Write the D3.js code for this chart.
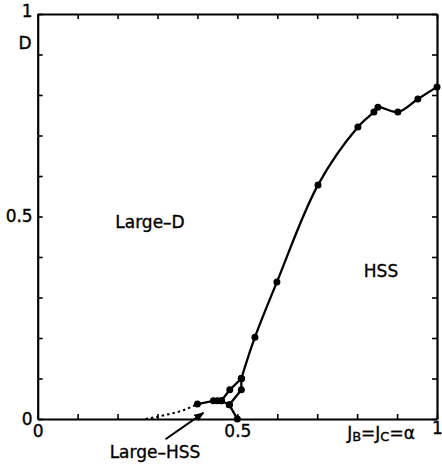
<!DOCTYPE html>
<html><head><meta charset="utf-8">
<script src="https://cdn.jsdelivr.net/npm/d3@7"></script>
<style>
html,body{margin:0;padding:0;background:#fff;}
svg{display:block;}
text{font-family:"DejaVu Sans","Liberation Sans",Arial,sans-serif;fill:#000;stroke:#000;stroke-width:0.35px;}
</style></head>
<body>
<svg id="c" width="442" height="464"></svg>
<script>
// ---- data ----
const mainX = [0.51, 0.544, 0.599, 0.702, 0.802, 0.842, 0.852, 0.902, 0.952, 1.0];
const mainY = [0.10, 0.202, 0.338, 0.578, 0.721, 0.758, 0.770, 0.758, 0.790, 0.820];
const upperX = [0.40, 0.44, 0.45, 0.46, 0.481, 0.51];
const upperY = [0.037, 0.045, 0.045, 0.045, 0.072, 0.10];
const lowerX = [0.46, 0.48, 0.51, 0.51];
const lowerY = [0.045, 0.035, 0.072, 0.10];
const stemX = [0.48, 0.50];
const stemY = [0.035, 0.0];
const dottedX = [0.27, 0.32, 0.36, 0.40];
const dottedY = [0.0, 0.01, 0.02, 0.037];
const xTickLabels = ["0", "0.5", "1"];
const yTickLabels = ["0", "0.5", "1"];
const regionLabels = ["Large\u2013D", "HSS", "Large\u2013HSS"];

const svg = d3.select("#c");
const x = d3.scaleLinear().domain([0, 1]).range([37.7, 437]);
const y = d3.scaleLinear().domain([0, 1]).range([419, 14]);
const ticks = d3.range(0, 11).map(i => i / 10);

function fmt(labels){
  return d => { const s = d3.format("~g")(d); return labels.includes(s) ? s : ""; };
}
const fs = "17px";
const gB = svg.append("g").attr("transform", `translate(0,${y(0)})`)
  .call(d3.axisBottom(x).tickValues(ticks).tickSizeInner(-5).tickSizeOuter(0).tickPadding(6).tickFormat(fmt(xTickLabels)));
const gL = svg.append("g").attr("transform", `translate(${x(0)},0)`)
  .call(d3.axisLeft(y).tickValues(ticks).tickSizeInner(-5).tickSizeOuter(0).tickPadding(5).tickFormat(fmt(yTickLabels)));
const gT = svg.append("g").attr("transform", `translate(0,${y(1)})`)
  .call(d3.axisTop(x).tickValues(ticks).tickSizeInner(-5).tickSizeOuter(0).tickFormat(""));
const gR = svg.append("g").attr("transform", `translate(${x(1)},0)`)
  .call(d3.axisRight(y).tickValues(ticks).tickSizeInner(-5).tickSizeOuter(0).tickFormat(""));
[gB, gL, gT, gR].forEach(g => {
  g.select(".domain").attr("stroke", "#000").attr("stroke-width", 2.2);
  g.selectAll(".tick line").attr("stroke", "#000").attr("stroke-width", 1.6);
  g.selectAll("text").style("font-size", fs).style("font-family", null);
});
gL.selectAll(".tick text").filter(d => d === 1).attr("dy", "0.15em");
gB.selectAll(".tick text").filter(d => d === 1).attr("dy", "0.55em");

const zip = (a, b) => a.map((v, i) => [v, b[i]]);
const mk = () => d3.line().x(d => x(d[0])).y(d => y(d[1]));

const mainPts = zip(mainX, mainY);
svg.append("path").attr("d", mk().curve(d3.curveCatmullRom.alpha(0.5))(mainPts))
  .attr("fill", "none").attr("stroke", "#000").attr("stroke-width", 2.3);
[[upperX, upperY], [lowerX, lowerY], [stemX, stemY]].forEach(([a, b]) => {
  svg.append("path").attr("d", mk()(zip(a, b)))
    .attr("fill", "none").attr("stroke", "#000").attr("stroke-width", 2.3);
});
svg.append("path").attr("d", mk().curve(d3.curveMonotoneX)(zip(dottedX, dottedY)))
  .attr("fill", "none").attr("stroke", "#000").attr("stroke-width", 2).attr("stroke-dasharray", "2.5,3");

const dots = [].concat(mainPts, zip(upperX, upperY), zip(lowerX, lowerY), zip(stemX, stemY));
svg.selectAll("circle.pt").data(dots).join("circle").attr("class", "pt")
  .attr("cx", d => x(d[0])).attr("cy", d => y(d[1])).attr("r", 3.5).attr("fill", "#000");

// axis titles
svg.append("text").attr("x", 25).attr("y", 49).attr("text-anchor", "middle").style("font-size", fs).text("D");
const jl = svg.append("text").attr("x", 381).attr("y", 439).attr("text-anchor", "middle").style("font-size", fs);
jl.append("tspan").text("J");
jl.append("tspan").style("font-size", "13px").attr("dy", 2).text("B");
jl.append("tspan").attr("dy", -2).text("=J");
jl.append("tspan").style("font-size", "13px").attr("dy", 2).text("C");
jl.append("tspan").attr("dy", -2).text("=\u03b1");

// region labels
svg.append("text").attr("x", 150).attr("y", 228).attr("text-anchor", "middle").style("font-size", fs).text(regionLabels[0]);
svg.append("text").attr("x", 381).attr("y", 277).attr("text-anchor", "middle").style("font-size", fs).text(regionLabels[1]);
svg.append("text").attr("x", 155).attr("y", 458).attr("text-anchor", "middle").style("font-size", fs).text(regionLabels[2]);

// arrow
svg.append("defs").append("marker").attr("id", "ah").attr("viewBox", "0 0 10 10").attr("refX", 9).attr("refY", 5)
  .attr("markerWidth", 10).attr("markerHeight", 10).attr("markerUnits", "userSpaceOnUse").attr("orient", "auto")
  .append("path").attr("d", "M0,1 L10,5 L0,9 Z").attr("fill", "#000");
svg.append("line").attr("x1", x(0.32)).attr("y1", y(-0.05)).attr("x2", x(0.415)).attr("y2", y(0.015))
  .attr("stroke", "#000").attr("stroke-width", 2).attr("marker-end", "url(#ah)");
</script>
</body></html>
